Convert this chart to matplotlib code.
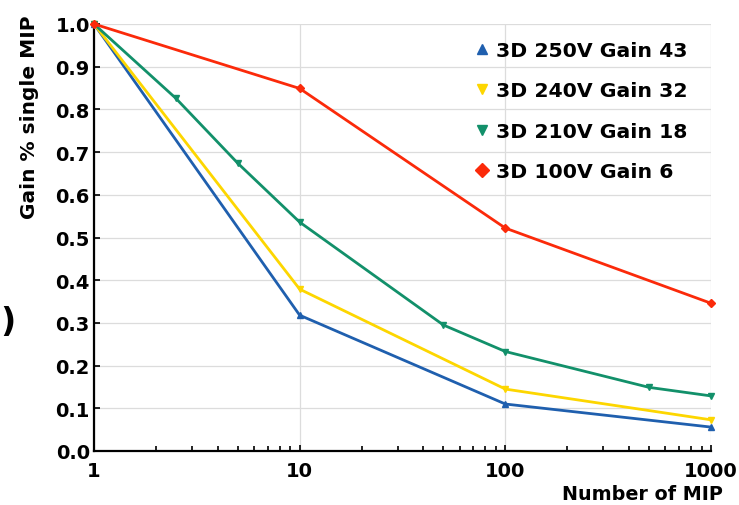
import numpy as np
import matplotlib
matplotlib.use("Agg")
import matplotlib.pyplot as plt
from matplotlib.ticker import LogLocator, NullFormatter, FixedLocator, FixedFormatter

# values
mip_blue = [1, 10, 100, 1000]
gain_blue = [1.0, 0.318, 0.110, 0.056]

mip_yellow = [1, 10, 100, 1000]
gain_yellow = [1.0, 0.379, 0.145, 0.073]

mip_green = [1, 2.5, 5, 10, 50, 100, 500, 1000]
gain_green = [1.0, 0.826, 0.674, 0.536, 0.295, 0.233, 0.149, 0.129]

mip_red = [1, 10, 100, 1000]
gain_red = [1.0, 0.849, 0.522, 0.346]

labels = ["3D 250V Gain 43", "3D 240V Gain 32", "3D 210V Gain 18", "3D 100V Gain 6"]
COLORS = ["#1f5fae", "#fdd600", "#12906a", "#fb2a0a"]
MARKERS = ["^", "v", "v", "D"]

plt.rcParams["font.family"] = "DejaVu Sans"
plt.rcParams["font.weight"] = "bold"

W, H = 739, 506
fig = plt.figure(figsize=(W / 100, H / 100), dpi=100)
ax = fig.add_axes([94 / W, 1 - 452 / H, (711 - 94) / W, (452 - 25) / H])

series = [(mip_blue, gain_blue), (mip_yellow, gain_yellow),
          (mip_green, gain_green), (mip_red, gain_red)]
for i, (x, y) in enumerate(series):
    ax.plot(x, y, color=COLORS[i], lw=2.0, marker=MARKERS[i], markersize=4.5,
            label=labels[i], clip_on=False, zorder=3)

ax.set_xscale("log")
ax.set_xlim(1, 1000)
ax.set_ylim(0, 1.0)

ax.set_yticks(np.arange(0, 1.01, 0.1))
ax.set_yticklabels([f"{v:.1f}" for v in np.arange(0, 1.01, 0.1)])
ax.xaxis.set_major_locator(FixedLocator([1, 10, 100, 1000]))
ax.xaxis.set_major_formatter(FixedFormatter(["1", "10", "100", "1000"]))
ax.xaxis.set_minor_locator(LogLocator(base=10, subs=np.arange(2, 10)))
ax.xaxis.set_minor_formatter(NullFormatter())

ax.tick_params(axis="both", which="major", direction="in", length=4, width=1.2,
               labelsize=14, pad=3)
ax.tick_params(axis="x", which="major", pad=7)
ax.tick_params(axis="x", which="minor", direction="in", length=3.5, width=1.2)

ax.grid(True, which="major", color="#dcdcdc", lw=0.9)
ax.set_axisbelow(True)

for s in ["top", "right"]:
    ax.spines[s].set_visible(False)
for s in ["left", "bottom"]:
    ax.spines[s].set_linewidth(1.6)

fig.text(30 / W, 1 - 117 / H, "Gain % single MIP", rotation=90, ha="center",
         va="center", fontsize=14.5, fontweight="bold")
fig.text(723 / W, 1 - 495 / H, "Number of MIP", ha="right", va="center",
         fontsize=13.8, fontweight="bold")

# bracket at the left edge of the original picture
fig.text(0, 1 - 322 / H, ")", ha="left", va="center", fontsize=24,
         fontweight="bold")

leg = ax.legend(loc="upper left", bbox_to_anchor=(465 / W, 1 - 32 / H),
                bbox_transform=fig.transFigure, frameon=False, fontsize=14.7,
                handlelength=0.7, handletextpad=0.3, labelspacing=1.04,
                borderpad=0, markerscale=1.6)
for h in leg.legend_handles:
    h.set_linestyle("none")

fig.savefig("out.png", dpi=100)
